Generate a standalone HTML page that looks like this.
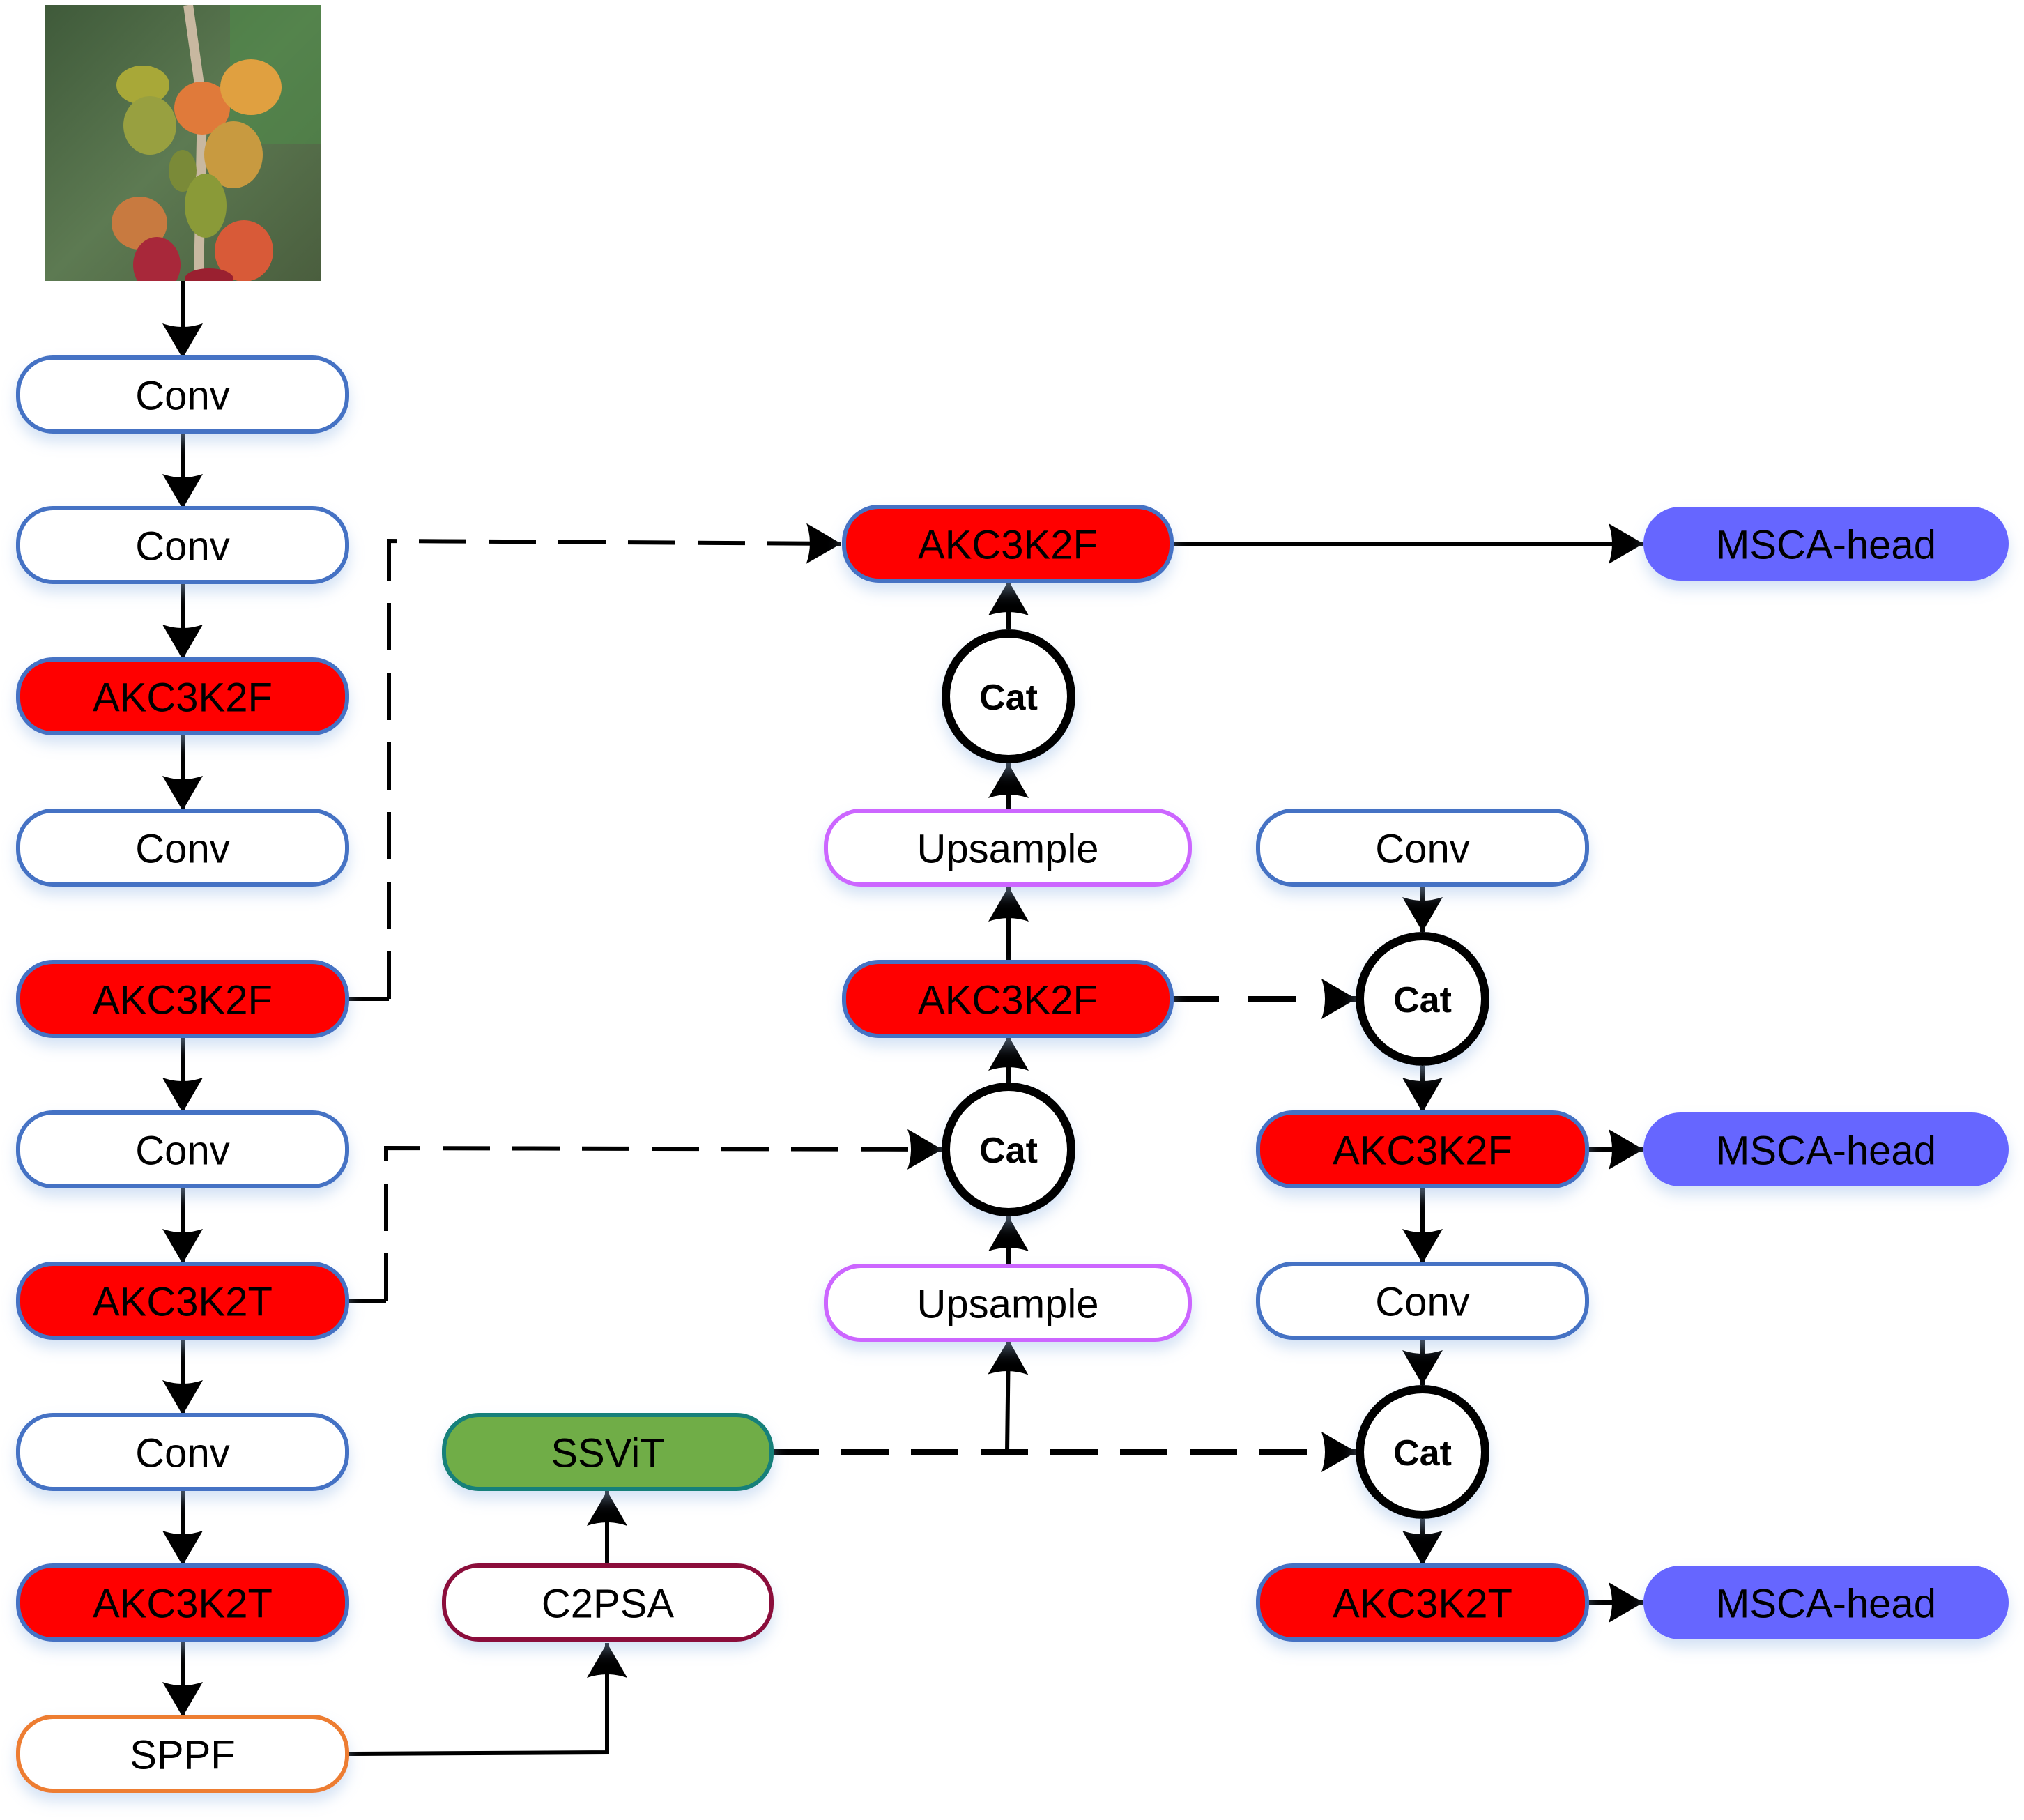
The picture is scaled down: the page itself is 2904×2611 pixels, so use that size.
<!DOCTYPE html>
<html><head><meta charset="utf-8"><style>
html,body{margin:0;padding:0;background:#fff}
svg{display:block}
text{font-family:"Liberation Sans",sans-serif;font-size:58px;text-anchor:middle;dominant-baseline:central}
.cat{font-weight:bold;font-size:52px}
</style></head><body>
<svg width="2904" height="2611" viewBox="0 0 2904 2611" xmlns="http://www.w3.org/2000/svg">
<defs>
<marker id="a" markerUnits="userSpaceOnUse" markerWidth="60" markerHeight="60" viewBox="0 0 50 60" refX="50" refY="30" orient="auto">
<path d="M0,1 Q10,30 0,59 L50,30 Z" fill="#000"/></marker>
<filter id="sh" x="-10%" y="-20%" width="120%" height="160%"><feDropShadow dx="0" dy="12" stdDeviation="10" flood-color="#9fbfe8" flood-opacity="0.45"/></filter>
<linearGradient id="bg" x1="0" y1="0" x2="1" y2="1"><stop offset="0" stop-color="#3f5a3a"/><stop offset="0.5" stop-color="#5d7a52"/><stop offset="1" stop-color="#4a5e3e"/></linearGradient>
<clipPath id="pc"><rect x="65" y="7" width="396" height="396"/></clipPath>
</defs>

<!-- photo -->
<g clip-path="url(#pc)">
<rect x="65" y="7" width="396" height="396" fill="url(#bg)"/>
<rect x="330" y="7" width="131" height="200" fill="#4f8a4a" opacity="0.6"/>
<path d="M270,7 L290,150 L285,403" stroke="#c8b8a0" stroke-width="14" fill="none"/>
<ellipse cx="205" cy="122" rx="38" ry="28" fill="#a8a838"/>
<ellipse cx="290" cy="155" rx="40" ry="38" fill="#e07a3a"/>
<ellipse cx="360" cy="125" rx="44" ry="40" fill="#e0a040"/>
<ellipse cx="215" cy="180" rx="38" ry="42" fill="#98a040"/>
<ellipse cx="335" cy="222" rx="42" ry="48" fill="#c89a40"/>
<ellipse cx="262" cy="245" rx="20" ry="30" fill="#7a8a38"/>
<ellipse cx="295" cy="295" rx="30" ry="46" fill="#8a9a38"/>
<ellipse cx="200" cy="320" rx="40" ry="38" fill="#c87a40"/>
<ellipse cx="350" cy="360" rx="42" ry="44" fill="#d85a38"/>
<ellipse cx="225" cy="380" rx="34" ry="40" fill="#a8283a"/>
<ellipse cx="300" cy="400" rx="35" ry="15" fill="#9a2030"/>
</g>

<g fill="none" stroke="#000" stroke-width="6">
<line x1="262" y1="403" x2="262" y2="514" marker-end="url(#a)"/>
<line x1="262" y1="620" x2="262" y2="730" marker-end="url(#a)"/>
<line x1="262" y1="835" x2="262" y2="946" marker-end="url(#a)"/>
<line x1="262" y1="1052" x2="262" y2="1163" marker-end="url(#a)"/>
<line x1="262" y1="1486" x2="262" y2="1596" marker-end="url(#a)"/>
<line x1="262" y1="1702" x2="262" y2="1813" marker-end="url(#a)"/>
<line x1="262" y1="1919" x2="262" y2="2030" marker-end="url(#a)"/>
<line x1="262" y1="2136" x2="262" y2="2246" marker-end="url(#a)"/>
<line x1="262" y1="2352" x2="262" y2="2463" marker-end="url(#a)"/>
<polyline points="498,1433 558,1433"/>
<polyline points="558,1433 558,776 1207,780" stroke-dasharray="68,32" marker-end="url(#a)"/>
<polyline points="498,1866 554,1866"/>
<polyline points="554,1866 554,1647 1352,1649" stroke-dasharray="68,32" marker-end="url(#a)"/>
<polyline points="498,2516 871,2514 871,2357" marker-end="url(#a)"/>
<line x1="871" y1="2246" x2="871" y2="2139" marker-end="url(#a)"/>
<line x1="1107" y1="2083" x2="1946" y2="2083" stroke-dasharray="68,32" stroke-width="8" marker-end="url(#a)"/>
<line x1="1445" y1="2083" x2="1447" y2="1922" marker-end="url(#a)"/>
<line x1="1447" y1="1816" x2="1447" y2="1745" marker-end="url(#a)"/>
<line x1="1447" y1="1553" x2="1447" y2="1486" marker-end="url(#a)"/>
<line x1="1447" y1="1380" x2="1447" y2="1272" marker-end="url(#a)"/>
<line x1="1447" y1="1163" x2="1447" y2="1095" marker-end="url(#a)"/>
<line x1="1447" y1="903" x2="1447" y2="833" marker-end="url(#a)"/>
<line x1="1681" y1="780" x2="2358" y2="780" marker-end="url(#a)"/>
<line x1="1681" y1="1433" x2="1946" y2="1433" stroke-dasharray="68,42" stroke-width="8" marker-end="url(#a)"/>
<line x1="2041" y1="1269" x2="2041" y2="1337" marker-end="url(#a)"/>
<line x1="2041" y1="1529" x2="2041" y2="1596" marker-end="url(#a)"/>
<line x1="2041" y1="1702" x2="2041" y2="1813" marker-end="url(#a)"/>
<line x1="2041" y1="1919" x2="2041" y2="1987" marker-end="url(#a)"/>
<line x1="2041" y1="2179" x2="2041" y2="2246" marker-end="url(#a)"/>
<line x1="2277" y1="1649" x2="2358" y2="1649" marker-end="url(#a)"/>
<line x1="2277" y1="2299" x2="2358" y2="2299" marker-end="url(#a)"/>
</g>

<g filter="url(#sh)" stroke-width="6">
<rect x="26" y="513" width="472" height="106" rx="50" fill="#fff" stroke="#4472C4"/>
<rect x="26" y="729" width="472" height="106" rx="50" fill="#fff" stroke="#4472C4"/>
<rect x="26" y="946" width="472" height="106" rx="50" fill="#f00" stroke="#4472C4"/>
<rect x="26" y="1163" width="472" height="106" rx="50" fill="#fff" stroke="#4472C4"/>
<rect x="26" y="1380" width="472" height="106" rx="50" fill="#f00" stroke="#4472C4"/>
<rect x="26" y="1596" width="472" height="106" rx="50" fill="#fff" stroke="#4472C4"/>
<rect x="26" y="1813" width="472" height="106" rx="50" fill="#f00" stroke="#4472C4"/>
<rect x="26" y="2030" width="472" height="106" rx="50" fill="#fff" stroke="#4472C4"/>
<rect x="26" y="2246" width="472" height="106" rx="50" fill="#f00" stroke="#4472C4"/>
<rect x="26" y="2463" width="472" height="106" rx="50" fill="#fff" stroke="#ED7D31"/>
<rect x="637" y="2030" width="470" height="106" rx="50" fill="#70AD47" stroke="#13807A"/>
<rect x="637" y="2246" width="470" height="106" rx="50" fill="#fff" stroke="#8B0A3A"/>
<rect x="1211" y="727" width="470" height="106" rx="50" fill="#f00" stroke="#4472C4"/>
<rect x="1185" y="1163" width="522" height="106" rx="50" fill="#fff" stroke="#CC66FF"/>
<rect x="1211" y="1380" width="470" height="106" rx="50" fill="#f00" stroke="#4472C4"/>
<rect x="1185" y="1816" width="522" height="106" rx="50" fill="#fff" stroke="#CC66FF"/>
<circle cx="1447" cy="999" r="90" fill="#fff" stroke="#000" stroke-width="12"/>
<circle cx="1447" cy="1649" r="90" fill="#fff" stroke="#000" stroke-width="12"/>
<rect x="1805" y="1163" width="472" height="106" rx="50" fill="#fff" stroke="#4472C4"/>
<circle cx="2041" cy="1433" r="90" fill="#fff" stroke="#000" stroke-width="12"/>
<rect x="1805" y="1596" width="472" height="106" rx="50" fill="#f00" stroke="#4472C4"/>
<rect x="1805" y="1813" width="472" height="106" rx="50" fill="#fff" stroke="#4472C4"/>
<circle cx="2041" cy="2083" r="90" fill="#fff" stroke="#000" stroke-width="12"/>
<rect x="1805" y="2246" width="472" height="106" rx="50" fill="#f00" stroke="#4472C4"/>
<rect x="2358" y="727" width="524" height="106" rx="53" fill="#6666FF" stroke="none"/>
<rect x="2358" y="1596" width="524" height="106" rx="53" fill="#6666FF" stroke="none"/>
<rect x="2358" y="2246" width="524" height="106" rx="53" fill="#6666FF" stroke="none"/>
</g>

<g fill="#000">
<text x="262" y="568">Conv</text>
<text x="262" y="784">Conv</text>
<text x="262" y="1001">AKC3K2F</text>
<text x="262" y="1218">Conv</text>
<text x="262" y="1435">AKC3K2F</text>
<text x="262" y="1651">Conv</text>
<text x="262" y="1868">AKC3K2T</text>
<text x="262" y="2085">Conv</text>
<text x="262" y="2301">AKC3K2T</text>
<text x="262" y="2518">SPPF</text>
<text x="872" y="2085">SSViT</text>
<text x="872" y="2301">C2PSA</text>
<text x="1446" y="782">AKC3K2F</text>
<text x="1446" y="1218">Upsample</text>
<text x="1446" y="1435">AKC3K2F</text>
<text x="1446" y="1871">Upsample</text>
<text class="cat" x="1447" y="1001">Cat</text>
<text class="cat" x="1447" y="1651">Cat</text>
<text class="cat" x="2041" y="1435">Cat</text>
<text class="cat" x="2041" y="2085">Cat</text>
<text x="2041" y="1218">Conv</text>
<text x="2041" y="1651">AKC3K2F</text>
<text x="2041" y="1868">Conv</text>
<text x="2041" y="2301">AKC3K2T</text>
<text x="2620" y="782">MSCA-head</text>
<text x="2620" y="1651">MSCA-head</text>
<text x="2620" y="2301">MSCA-head</text>
</g>
</svg>
</body></html>
